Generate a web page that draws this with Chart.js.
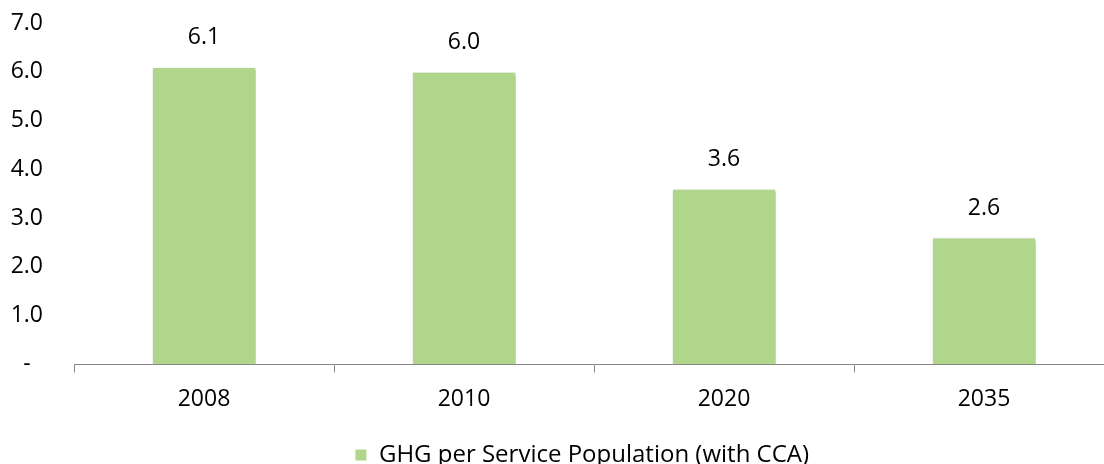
<!DOCTYPE html>
<html>
<head>
<meta charset="utf-8">
<script src="https://cdn.jsdelivr.net/npm/chart.js@4"></script>
<style>
  html, body { margin: 0; padding: 0; background: #fff; overflow: hidden; }
  #wrap { width: 1164px; height: 464px; position: relative; }
</style>
</head>
<body>
<div id="wrap"><canvas id="chart"></canvas></div>
<script>
const years = ['2008', '2010', '2020', '2035'];
const ghgPerSP = [6.1, 6.0, 3.6, 2.6];
const seriesName = 'GHG per Service Population (with CCA)';

const FONT = "'Open Sans', sans-serif";
const FSIZE = 23;

// value labels above each bar
const valueLabels = {
    id: 'valueLabels',
    afterDatasetsDraw(chart) {
        const ctx = chart.ctx;
        const meta = chart.getDatasetMeta(0);
        ctx.save();
        ctx.font = `${FSIZE}px ${FONT}`;
        ctx.fillStyle = '#000';
        ctx.textAlign = 'center';
        ctx.textBaseline = 'bottom';
        meta.data.forEach((bar, i) => {
            ctx.fillText(ghgPerSP[i].toFixed(1), bar.x, bar.y - 18);
        });
        ctx.restore();
    }
};

// soft shadow round the bars
const barShadow = {
    id: 'barShadow',
    beforeDatasetsDraw(chart) {
        const ctx = chart.ctx;
        ctx.save();
        ctx.shadowColor = 'rgba(0,0,0,0.35)';
        ctx.shadowBlur = 3;
        ctx.shadowOffsetX = 1;
        ctx.shadowOffsetY = 1;
    },
    afterDatasetsDraw(chart) {
        chart.ctx.restore();
    }
};

new Chart(document.getElementById('chart'), {
    type: 'bar',
    data: {
        labels: years,
        datasets: [{
            label: seriesName,
            data: ghgPerSP,
            backgroundColor: '#b0d68c',
            borderColor: '#ffffff',
            borderWidth: 1,
            barPercentage: 0.4,
            categoryPercentage: 1.0
        }]
    },
    options: {
        responsive: true,
        maintainAspectRatio: false,
        animation: false,
        layout: { padding: { top: 23, right: 0, left: 0, bottom: -13 } },
        plugins: {
            legend: {
                position: 'bottom',
                labels: {
                    font: { family: FONT, size: 24 },
                    color: '#000',
                    boxWidth: 12,
                    boxHeight: 12,
                    padding: 7
                }
            },
            tooltip: { enabled: false }
        },
        scales: {
            x: {
                grid: {
                    drawOnChartArea: false,
                    drawTicks: true,
                    tickLength: 8,
                    color: '#868686'
                },
                border: { color: '#868686', width: 1 },
                ticks: {
                    font: { family: FONT, size: FSIZE },
                    color: '#000',
                    padding: 13
                },
                afterFit(scale) { scale.height += 10; }
            },
            y: {
                min: 0,
                max: 7,
                afterFit(scale) {
                    scale.width = 74;
                    // tick padding is only for the label offset, not for the plot top
                    scale.paddingTop = 0;
                    scale.paddingBottom = 0;
                },
                grid: { display: false, drawTicks: false },
                border: { display: false },
                ticks: {
                    stepSize: 1,
                    crossAlign: 'center',
                    padding: 31,
                    font: { family: FONT, size: FSIZE },
                    color: '#000',
                    callback: v => v === 0 ? '-' : v.toFixed(1)
                }
            },
            // empty right-hand strip so the plot runs past the window edge
            yRight: {
                position: 'right',
                grid: { display: false, drawTicks: false },
                border: { display: false },
                ticks: { display: false },
                afterFit(scale) {
                    scale.width = 50;
                    scale.paddingTop = 0;
                    scale.paddingBottom = 0;
                }
            }
        }
    },
    plugins: [barShadow, valueLabels]
});
</script>
</body>
</html>
